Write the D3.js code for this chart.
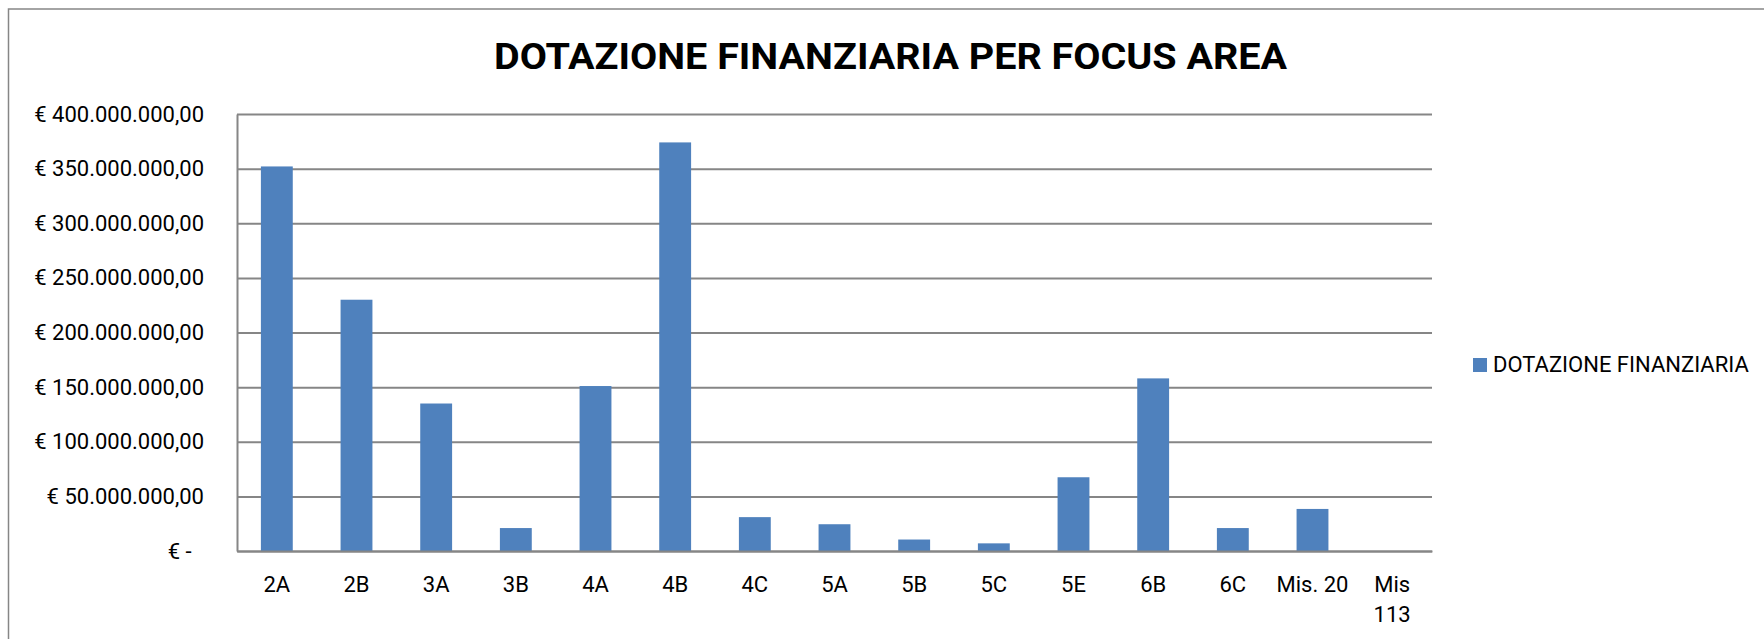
<!DOCTYPE html>
<html>
<head>
<meta charset="utf-8">
<script src="https://cdn.jsdelivr.net/npm/d3@7"></script>
<style>
  body { margin: 0; background: #fff; }
  svg { display: block; }
</style>
</head>
<body>
<div id="chart"></div>
<script>
// Data
const categories = ["2A", "2B", "3A", "3B", "4A", "4B", "4C", "5A", "5B", "5C", "5E", "6B", "6C", "Mis. 20", "Mis\n113"];
const dotazione = [352e6, 230e6, 135e6, 21e6, 151e6, 374e6, 31e6, 24.5e6, 10.5e6, 7e6, 67.5e6, 158e6, 21e6, 38.5e6, 0];
const yTicks = [0, 50e6, 100e6, 150e6, 200e6, 250e6, 300e6, 350e6, 400e6];
const seriesName = "DOTAZIONE FINANZIARIA";
const chartTitle = "DOTAZIONE FINANZIARIA PER FOCUS AREA";

const width = 1764, height = 639;
const plot = { left: 237, right: 1432, top: 114, bottom: 551 };
const gridColor = "#868686";
const barColor = "#4F81BD";
const font = "Roboto, 'Liberation Sans', sans-serif";

const svg = d3.select("#chart").append("svg")
    .attr("width", width)
    .attr("height", height);

// chart area border (runs off the right and bottom of the picture)
svg.append("rect")
    .attr("x", 8.5).attr("y", 9)
    .attr("width", width + 20).attr("height", height + 20)
    .attr("fill", "#fff")
    .attr("stroke", gridColor)
    .attr("stroke-width", 1.5);

// Title
svg.append("text")
    .attr("x", 494)
    .attr("y", 69)
    .attr("textLength", 793)
    .attr("lengthAdjust", "spacingAndGlyphs")
    .style("font-family", font)
    .style("font-size", "37px")
    .style("font-weight", "bold")
    .style("fill", "#000")
    .text(chartTitle);

// Scales
const x = d3.scaleBand()
    .domain(categories)
    .range([plot.left, plot.right])
    .paddingInner(0.6)
    .paddingOuter(0.3);

const y = d3.scaleLinear()
    .domain([0, 400e6])
    .range([plot.bottom, plot.top]);

const it = d3.formatLocale({ decimal: ",", thousands: ".", grouping: [3], currency: ["€ ", ""] });
const fmt = it.format(",.2f");
const yLabel = d => d === 0 ? "€ -\u2007" : "€ " + fmt(d);

// Y axis with gridlines
const yAxis = svg.append("g")
    .attr("transform", `translate(${plot.left},0)`)
    .call(d3.axisLeft(y)
        .tickValues(yTicks)
        .tickFormat(yLabel)
        .tickSizeInner(-(plot.right - plot.left))
        .tickSizeOuter(0)
        .tickPadding(33));

yAxis.selectAll(".tick line")
    .attr("stroke", gridColor)
    .attr("stroke-width", 2);
yAxis.select(".domain")
    .attr("stroke", gridColor)
    .attr("stroke-width", 2);
yAxis.selectAll("text")
    .style("font-family", font)
    .style("font-size", "22px")
    .style("fill", "#000");

// Bars
svg.selectAll(".bar")
    .data(dotazione)
    .enter()
    .append("rect")
    .attr("class", "bar")
    .attr("x", (d, i) => x(categories[i]))
    .attr("y", d => y(d))
    .attr("width", x.bandwidth())
    .attr("height", d => y(0) - y(d))
    .attr("fill", barColor);

// X axis
const xAxis = svg.append("g")
    .attr("transform", `translate(0,${plot.bottom})`)
    .call(d3.axisBottom(x).tickSize(0).tickPadding(25));

xAxis.select(".domain")
    .attr("stroke", gridColor)
    .attr("stroke-width", 2);

xAxis.selectAll("text")
    .style("font-family", font)
    .style("font-size", "22px")
    .style("fill", "#000")
    .each(function (d) {
        const lines = d.split("\n");
        if (lines.length < 2) return;
        const t = d3.select(this).text(null);
        lines.forEach((line, k) => {
            t.append("tspan")
                .attr("x", 0)
                .attr("dy", k === 0 ? "0.71em" : "1.36em")
                .text(line);
        });
        t.attr("dy", null);
    });

// Legend
const legend = svg.append("g")
    .attr("transform", "translate(1473,358)");

legend.append("rect")
    .attr("width", 14)
    .attr("height", 14)
    .attr("fill", barColor);

legend.append("text")
    .attr("x", 20)
    .attr("y", 14)
    .style("font-family", font)
    .style("font-size", "22px")
    .style("fill", "#000")
    .text(seriesName);
</script>
</body>
</html>
